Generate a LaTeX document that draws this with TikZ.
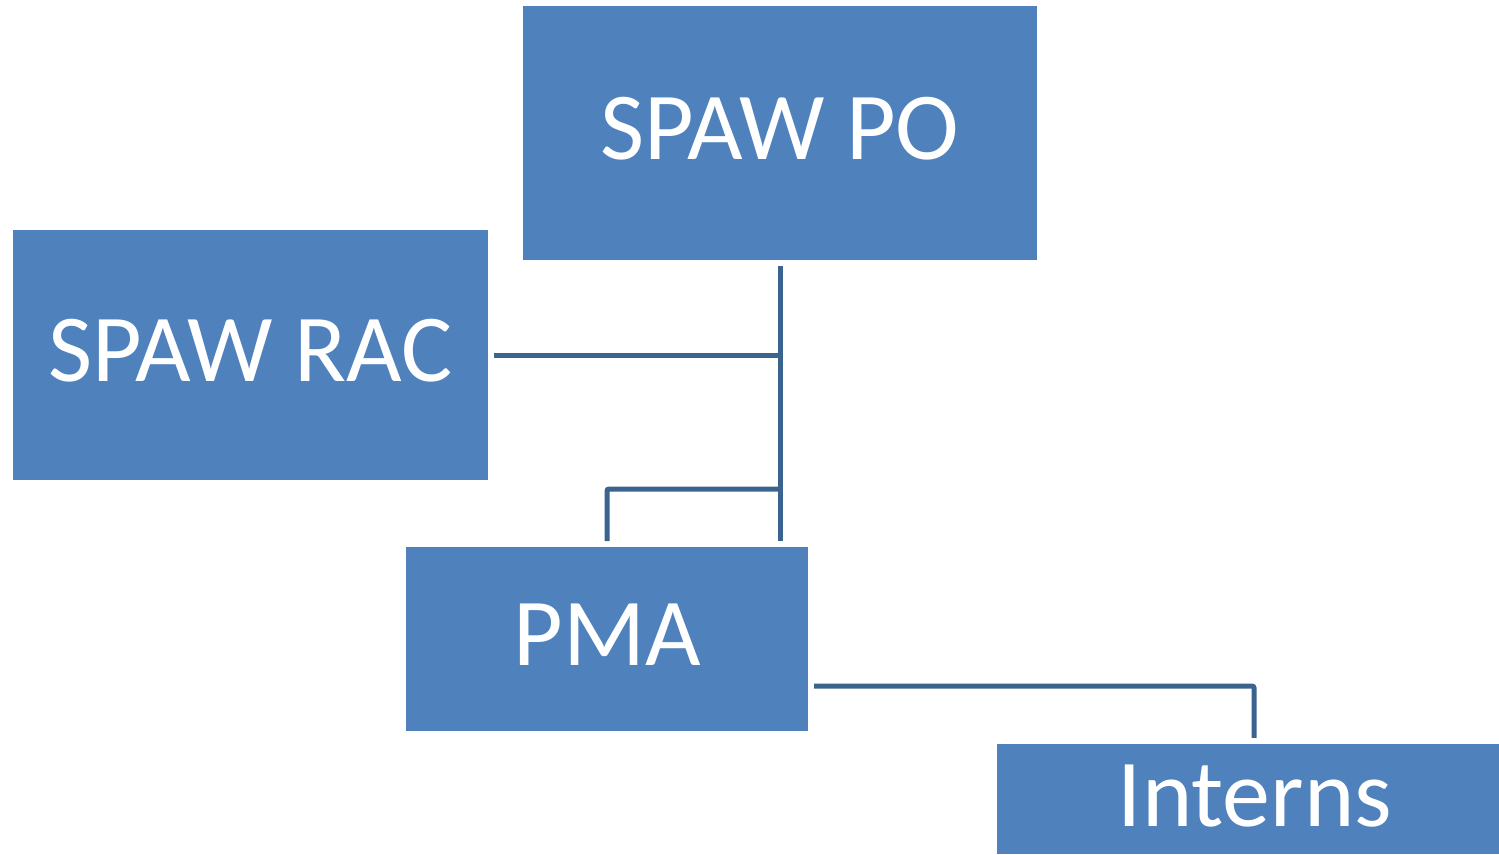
\documentclass[tikz,border=0pt]{standalone}
\usepackage{fontspec}
\setmainfont{Carlito}
\usetikzlibrary{calc}
\definecolor{boxblue}{HTML}{4F81BD}
\definecolor{linkblue}{HTML}{3B6390}
\tikzset{
  orgbox/.style={rectangle, fill=boxblue, draw=none, inner sep=0pt},
  orgtext/.style={text=white, font=\fontsize{96}{110}\selectfont, inner sep=0pt},
  conn/.style={draw=linkblue, line width=5pt, rounded corners=2pt}
}
\begin{document}
\begin{tikzpicture}[x=1pt,y=-1pt]
\useasboundingbox (0,0) rectangle (1499,854);
\clip (0,0) rectangle (1499,854);
\node[orgbox, minimum width=514pt, minimum height=254pt] (po) at (780,133) {};
\node[orgtext] (potext) at (780,129) {SPAW PO};
\node[orgbox, minimum width=475pt, minimum height=250pt] (rac) at (250.5,355) {};
\node[orgtext] (ractext) at (250.5,351) {SPAW RAC};
\node[orgbox, minimum width=402pt, minimum height=184pt] (pma) at (607,639) {};
\node[orgtext] (pmatext) at (607,635) {PMA};
\node[orgbox, minimum width=516pt, minimum height=110pt] (interns) at (1255,799) {};
\node[orgtext] (internstext) at (1255,796) {Interns};
\coordinate (vtop) at ($(po.south)+(0,6)$);
\coordinate (vbot) at ($(po.south |- pma.north)+(0,-6)$);
\coordinate (racjoin) at (vtop |- rac.east);
\coordinate (pmaleft) at (607,541);
\coordinate (pmajoin) at (780,489);
\coordinate (intstart) at (814,686);
\coordinate (intend) at ($(interns.north)+(-1,-6)$);
\draw[conn] (vtop) -- (vbot);
\draw[conn] ($(rac.east)+(6,0)$) -- (racjoin);
\draw[conn] (pmaleft) |- (pmajoin);
\draw[conn] (intstart) -| (intend);
\end{tikzpicture}
\end{document}
